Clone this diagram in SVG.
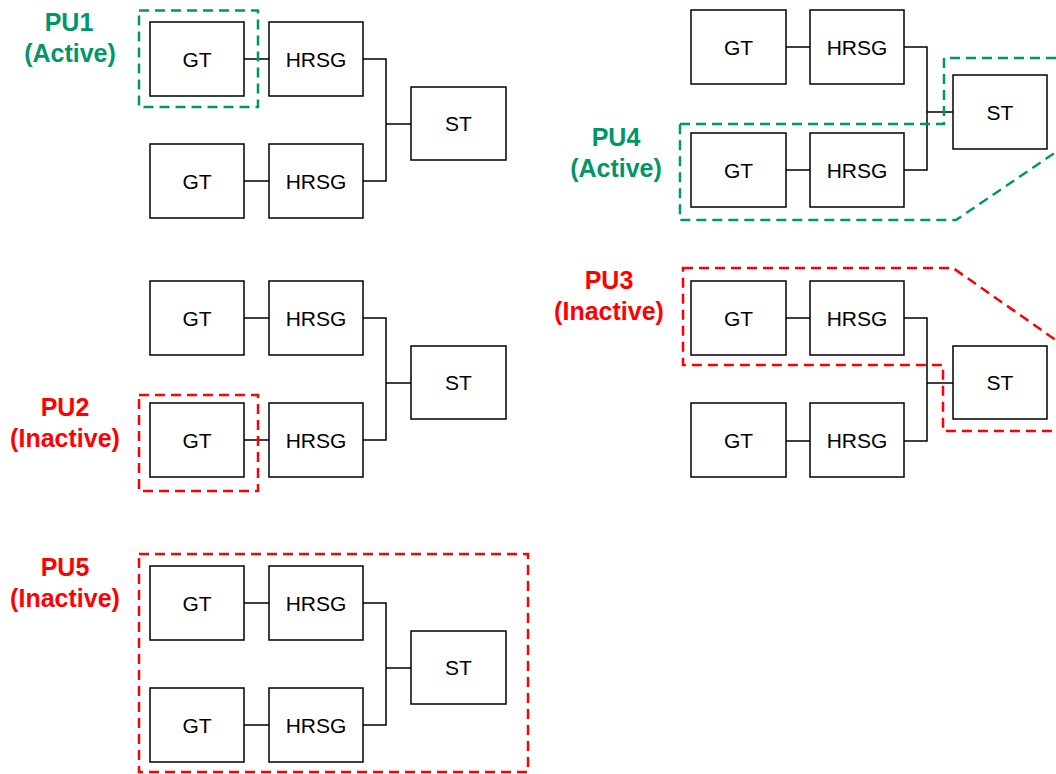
<svg xmlns="http://www.w3.org/2000/svg" width="1056" height="774" viewBox="0 0 1056 774">
<style>
.n rect{fill:#fff;stroke:#000;stroke-width:1.5}
.n text{font-family:"Liberation Sans",Arial,sans-serif;font-size:21px;text-anchor:middle;fill:#000}
.c{fill:none;stroke:#000;stroke-width:1.5}
.g{fill:none;stroke:#00966A;stroke-width:2.5;stroke-dasharray:10 6}
.r{fill:none;stroke:#FF0000;stroke-width:2.5;stroke-dasharray:10 6}
.lg,.lr{font-family:"Liberation Sans",Arial,sans-serif;font-size:25px;font-weight:bold;text-anchor:middle}
.lg{fill:#00966A}
.lr{fill:#FF0000}
</style>
<rect width="1056" height="774" fill="#fff"/>
<g id="connectors">
<path class="c" d="M244,59H269M244,181H269M363,59H386V181H363M386,124H411"/>
<path class="c" d="M244,318H269M244,440H269M363,318H386V440H363M386,383H411"/>
<path class="c" d="M244,603H269M244,725H269M363,603H386V725H363M386,668H411"/>
<path class="c" d="M786,47H810M786,170H810M904,47H927V170H904M927,112H953"/>
<path class="c" d="M786,318H810M786,441H810M904,318H927V441H904M927,383H953"/>
</g>
<g id="b1-gt1" class="n"><rect x="150" y="22" width="94" height="74"/><text x="197" y="66.5">GT</text></g>
<g id="b1-hrsg1" class="n"><rect x="269" y="22" width="94" height="74"/><text x="316" y="66.5">HRSG</text></g>
<g id="b1-gt2" class="n"><rect x="150" y="144" width="94" height="74"/><text x="197" y="188.5">GT</text></g>
<g id="b1-hrsg2" class="n"><rect x="269" y="144" width="94" height="74"/><text x="316" y="188.5">HRSG</text></g>
<g id="b1-st" class="n"><rect x="411" y="87" width="95" height="73"/><text x="458.5" y="131">ST</text></g>
<g id="b2-gt1" class="n"><rect x="150" y="281" width="94" height="74"/><text x="197" y="325.5">GT</text></g>
<g id="b2-hrsg1" class="n"><rect x="269" y="281" width="94" height="74"/><text x="316" y="325.5">HRSG</text></g>
<g id="b2-gt2" class="n"><rect x="150" y="403" width="94" height="74"/><text x="197" y="447.5">GT</text></g>
<g id="b2-hrsg2" class="n"><rect x="269" y="403" width="94" height="74"/><text x="316" y="447.5">HRSG</text></g>
<g id="b2-st" class="n"><rect x="411" y="346" width="95" height="73"/><text x="458.5" y="390">ST</text></g>
<g id="b3-gt1" class="n"><rect x="150" y="566" width="94" height="74"/><text x="197" y="610.5">GT</text></g>
<g id="b3-hrsg1" class="n"><rect x="269" y="566" width="94" height="74"/><text x="316" y="610.5">HRSG</text></g>
<g id="b3-gt2" class="n"><rect x="150" y="688" width="94" height="74"/><text x="197" y="732.5">GT</text></g>
<g id="b3-hrsg2" class="n"><rect x="269" y="688" width="94" height="74"/><text x="316" y="732.5">HRSG</text></g>
<g id="b3-st" class="n"><rect x="411" y="631" width="95" height="73"/><text x="458.5" y="675">ST</text></g>
<g id="b4-gt1" class="n"><rect x="691" y="10" width="95" height="74"/><text x="738.5" y="54.5">GT</text></g>
<g id="b4-hrsg1" class="n"><rect x="810" y="10" width="94" height="74"/><text x="857" y="54.5">HRSG</text></g>
<g id="b4-gt2" class="n"><rect x="691" y="133" width="95" height="74"/><text x="738.5" y="177.5">GT</text></g>
<g id="b4-hrsg2" class="n"><rect x="810" y="133" width="94" height="74"/><text x="857" y="177.5">HRSG</text></g>
<g id="b4-st" class="n"><rect x="953" y="75" width="94" height="74"/><text x="1000" y="119.5">ST</text></g>
<g id="b5-gt1" class="n"><rect x="691" y="281" width="95" height="74"/><text x="738.5" y="325.5">GT</text></g>
<g id="b5-hrsg1" class="n"><rect x="810" y="281" width="94" height="74"/><text x="857" y="325.5">HRSG</text></g>
<g id="b5-gt2" class="n"><rect x="691" y="403" width="95" height="74"/><text x="738.5" y="447.5">GT</text></g>
<g id="b5-hrsg2" class="n"><rect x="810" y="403" width="94" height="74"/><text x="857" y="447.5">HRSG</text></g>
<g id="b5-st" class="n"><rect x="953" y="346" width="94" height="73"/><text x="1000" y="390">ST</text></g>
<g id="pu1">
<rect class="g" x="139" y="10.5" width="119" height="96.5"/>
<text class="lg" x="69" y="31">PU1</text>
<text class="lg" x="70" y="62">(Active)</text>
</g>
<g id="pu2">
<rect class="r" x="139" y="395" width="119" height="96"/>
<text class="lr" x="65" y="416">PU2</text>
<text class="lr" x="65" y="447">(Inactive)</text>
</g>
<g id="pu5">
<rect class="r" x="139" y="554" width="389" height="218"/>
<text class="lr" x="65" y="576">PU5</text>
<text class="lr" x="65" y="607">(Inactive)</text>
</g>
<g id="pu4">
<path class="g" d="M680,124H944V58H1070V142.5L956,220H680Z"/>
<text class="lg" x="616" y="146">PU4</text>
<text class="lg" x="616" y="177">(Active)</text>
</g>
<g id="pu3">
<path class="r" d="M683,268H953L1070,350V431H943V365H683Z"/>
<text class="lr" x="609" y="289">PU3</text>
<text class="lr" x="609" y="320">(Inactive)</text>
</g>
</svg>
